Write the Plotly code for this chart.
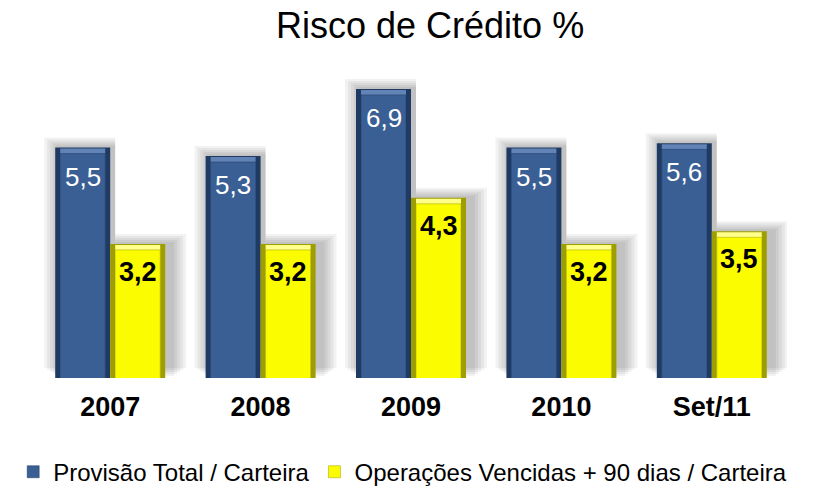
import plotly.graph_objects as go

periods = ["2007", "2008", "2009", "2010", "Set/11"]
provisao = [5.5, 5.3, 6.9, 5.5, 5.6]
vencidas = [3.2, 3.2, 4.3, 3.2, 3.5]

FONT = "Liberation Sans, Arial"
PX_X = 752 / 5          # pixels per category
PX_Y = 41.9             # pixels per data unit
BAR_W = 55 / PX_X       # one bar, in category units

BLUE = "#3a5f95"
BLUE_EDGE = "#203b63"
BLUE_TOP = "#6283b6"
YELLOW = "#fcfc00"
YELLOW_EDGE = "#9e9e00"
YELLOW_TOP = "#ffff8a"

fig = go.Figure()

# soft drop shadow behind each pair of bars (several faint layers)
shadow_layers = [(16, 10), (13, 8), (10, 6), (7, 4), (4, 2)]
shift = 5 / PX_X
for grow, up in shadow_layers:
    g = grow / PX_X
    for vals, off in ((provisao, -BAR_W - g + shift), (vencidas, shift)):
        fig.add_trace(go.Bar(
            x=periods, y=vals, base=up / PX_Y,
            width=BAR_W + g, offset=off,
            marker=dict(color="rgba(0,0,0,0.05)", line=dict(width=0)),
            showlegend=False, hoverinfo="skip",
        ))

# bevelled bars: dark frame, light top bevel, flat face
inset = 5
for vals, off, edge, top, face, name in (
    (provisao, -BAR_W, BLUE_EDGE, BLUE_TOP, BLUE, "Provisão Total / Carteira"),
    (vencidas, 0, YELLOW_EDGE, YELLOW_TOP, YELLOW, "Operações Vencidas + 90 dias / Carteira"),
):
    fig.add_trace(go.Bar(
        x=periods, y=vals, width=BAR_W, offset=off,
        marker=dict(color=edge, line=dict(width=0)),
        showlegend=False, hoverinfo="skip",
    ))
    fig.add_trace(go.Bar(
        x=periods, y=vals, base=-1 / PX_Y,
        width=BAR_W - 2 * inset / PX_X, offset=off + inset / PX_X,
        marker=dict(color=top, line=dict(width=0)),
        showlegend=False, hoverinfo="skip",
    ))
    fig.add_trace(go.Bar(
        x=periods, y=vals, base=-(inset + 1) / PX_Y,
        width=BAR_W - 2 * inset / PX_X, offset=off + inset / PX_X,
        marker=dict(color=face, line=dict(color=edge, width=0.5)),
        name=name,
    ))

# value labels inside the top of each bar
for i, v in enumerate(provisao):
    fig.add_annotation(
        x=i, y=v, xshift=-27.5, yshift=-29, yanchor="middle",
        text=f"{v:.1f}".replace(".", ","), showarrow=False,
        font=dict(size=26, color="white", family=FONT),
    )
for i, v in enumerate(vencidas):
    fig.add_annotation(
        x=i, y=v, xshift=27.5, yshift=-28, yanchor="middle",
        text=f"<b>{v:.1f}</b>".replace(".", ","), showarrow=False,
        font=dict(size=27, color="black", family=FONT),
    )

fig.update_layout(
    width=818,
    height=497,
    barmode="overlay",
    plot_bgcolor="white",
    paper_bgcolor="white",
    title=dict(
        text="Risco de Crédito %",
        x=0.516,
        xanchor="center",
        y=0.99,
        yanchor="top",
        font=dict(size=36, color="black", family=FONT),
    ),
    margin=dict(l=27, r=39, t=52, b=127, autoexpand=False),
    xaxis=dict(
        type="category",
        categoryorder="array",
        categoryarray=periods,
        range=[-0.5, len(periods) - 0.5],
        showgrid=False,
        showline=False,
        ticks="",
        tickfont=dict(size=27, color="black", family=FONT, weight="bold"),
        ticklabelstandoff=10,
    ),
    yaxis=dict(
        range=[0, 318 / PX_Y],
        showgrid=False,
        showticklabels=False,
        zeroline=False,
        showline=False,
    ),
    legend=dict(
        orientation="h",
        x=-0.029,
        xanchor="left",
        y=-0.296,
        yanchor="middle",
        font=dict(size=24, color="black", family=FONT),
        itemwidth=30,
    ),
    showlegend=True,
)

fig.write_html("out.html")
